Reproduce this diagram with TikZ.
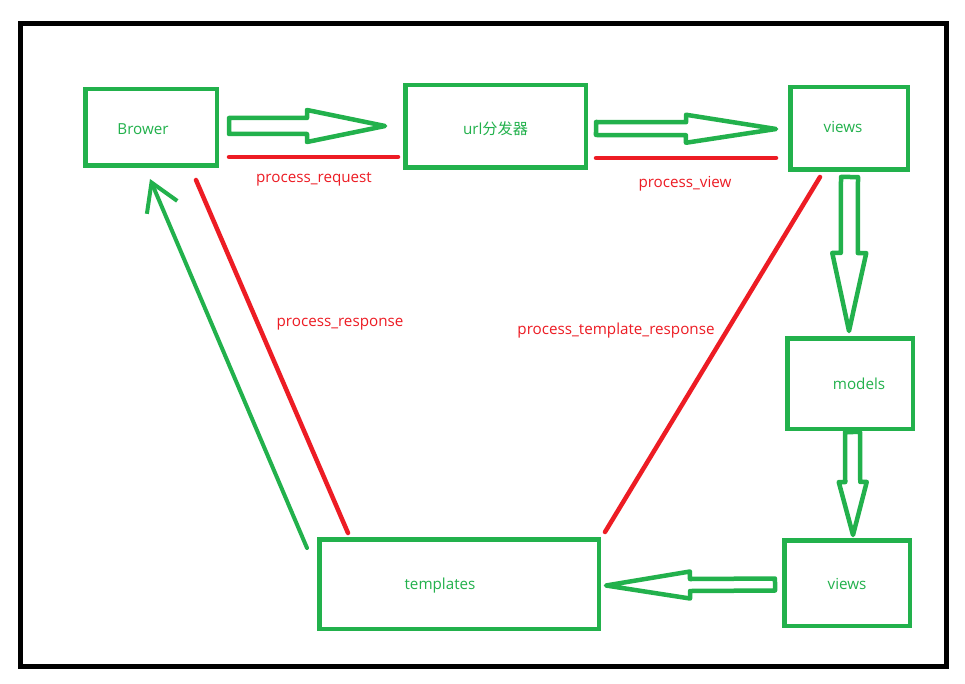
\documentclass[tikz,border=0pt]{standalone}
\usepackage{fontspec}
\setmainfont{Open Sans}
\newfontfamily\cjkfont{Noto Sans CJK SC}
\usetikzlibrary{calc,arrows.meta}
\definecolor{paintgreen}{HTML}{22B14C}
\definecolor{paintred}{HTML}{ED1C24}

% hollow block arrow: #1 start, #2 tip, #3 shaft half-width, #4 head half-width, #5 head length
\newcommand\fatarrow[5]{%
  \coordinate (fa-b) at ($(#2)!#5!(#1)$);
  \draw[blockarrow]
    ($(#1)!#3!90:(#2)$) -- ($(fa-b)!#3!-90:(#1)$) -- ($(fa-b)!#4!-90:(#1)$)
    -- (#2) -- ($(fa-b)!#4!90:(#1)$) -- ($(fa-b)!#3!90:(#1)$)
    -- ($(#1)!#3!-90:(#2)$) -- cycle;}

\begin{document}
\begin{tikzpicture}[x=1pt,y=-1pt,
  every node/.style={font=\fontsize{15.2}{18}\selectfont},
  box/.style={draw=paintgreen, line width=4.5pt, outer sep=0pt, inner sep=0pt},
  boxtext/.style={text=paintgreen, font=\fontsize{15.2}{18}\selectfont},
  redtext/.style={text=paintred, inner sep=0pt},
  redline/.style={draw=paintred, line width=4.5pt, line cap=round},
  greenline/.style={draw=paintgreen, line width=4pt, line cap=round, line join=round},
  blockarrow/.style={draw=paintgreen, line width=4.5pt, line join=round, fill=white}]

  \useasboundingbox (0,0) rectangle (965,684);
  \fill[white] (0,0) rectangle (965,684);
  \draw[line width=5pt, black] (20,23.5) rectangle (946,666.5);

  % boxes
  \node[box, minimum width=131.5pt, minimum height=76.5pt,
        label={[boxtext, xshift=-8pt, yshift=-1.5pt]center:Brower}] (brower) at (151,127.5) {};
  \node[box, minimum width=180.5pt, minimum height=82.5pt,
        label={[boxtext, yshift=-2.5pt]center:url{\cjkfont 分发器}}] (url) at (495.5,126.5) {};
  \node[box, minimum width=117.5pt, minimum height=82.5pt,
        label={[boxtext, xshift=-6pt, yshift=1.5pt]center:views}] (views1) at (849,128.5) {};
  \node[box, minimum width=125.5pt, minimum height=90.5pt,
        label={[boxtext, xshift=9pt]center:models}] (models) at (850,383.5) {};
  \node[box, minimum width=125.5pt, minimum height=85.5pt,
        label={[boxtext, yshift=-1pt]center:views}] (views2) at (847,583) {};
  \node[box, minimum width=279.5pt, minimum height=89.5pt,
        label={[boxtext, xshift=-19pt, yshift=-2pt]center:templates}] (templates) at (459,584) {};

  % block arrow end points
  \coordinate (a1s) at ($(brower.east)+(12.25,-1.5)$);
  \coordinate (a1e) at ($(url.west)+(-20.25,-0.5)$);
  \coordinate (a2s) at ($(url.east)+(10.25,2)$);
  \coordinate (a2e) at ($(views1.west)+(-14.25,0.5)$);
  \coordinate (a3s) at ($(views1.south)+(0.5,7.25)$);
  \coordinate (a3e) at ($(models.north)+(-1,-7.25)$);
  \coordinate (a4s) at ($(models.south)+(2.5,3.25)$);
  \coordinate (a4e) at ($(views2.north)+(6,-5.25)$);
  \coordinate (a5s) at ($(views2.west)+(-9.25,1.5)$);
  \coordinate (a5e) at ($(templates.east)+(7.25,1.5)$);

  \fatarrow{a1s}{a1e}{8pt}{16pt}{78pt}
  \fatarrow{a2s}{a2e}{6.5pt}{14pt}{90pt}
  \fatarrow{a3s}{a3e}{8.5pt}{17pt}{78pt}
  \fatarrow{a4s}{a4e}{7.5pt}{14pt}{53pt}
  \fatarrow{a5s}{a5e}{6pt}{13.5pt}{84pt}

  % middleware hooks
  \draw[redline] ($(brower.east)+(12.25,29.5)$) -- ($(url.west)+(-7.25,30.5)$);
  \draw[redline] ($(url.east)+(10.25,31.5)$) -- ($(views1.west)+(-14.25,29.5)$);
  \draw[redline] ($(brower.south west)+(110.75,14.25)$) -- ($(templates.north west)+(28.75,-6.25)$);
  \draw[redline] ($(views1.south west)+(29.75,7.25)$) -- ($(templates.north east)+(6.25,-7.25)$);

  % response back to the browser
  \draw[greenline, -{Straight Barb[length=27pt, width=33pt]}]
    ($(templates.north west)+(-12.25,8.75)$) -- ($(brower.south west)+(64.75,13.25)$);

  % hook labels
  \node[redtext] (lreq) at (314,179) {process\_request};
  \node[redtext] (lview) at (685,184) {process\_view};
  \node[redtext] (lresp) at (340,324.5) {process\_response};
  \node[redtext] (ltpl) at (616,331) {process\_template\_response};
\end{tikzpicture}
\end{document}
